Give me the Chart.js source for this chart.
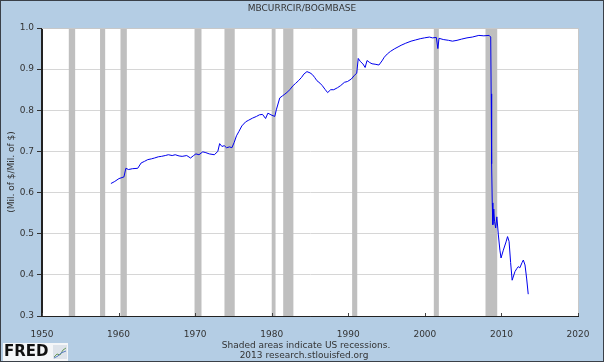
<!DOCTYPE html>
<html><head><meta charset="utf-8">
<script src="https://cdn.jsdelivr.net/npm/chart.js@4.4.0/dist/chart.umd.min.js"></script>
<style>html,body{margin:0;padding:0;background:#b4cde4}canvas{display:block}</style>
</head><body>
<canvas id="c" width="604" height="362"></canvas>
<script>
// Decimal years and MBCURRCIR/BOGMBASE ratio
const years = [
1959.0,1959.5,1960.05,1960.7,1960.95,1961.3,1961.8,1962.5,1962.95,1963.4,1963.8,1964.3,1964.7,1965.2,1965.6,
1966.1,1966.5,1967.0,1967.4,1967.9,1968.3,1968.9,1969.4,1969.8,1970.1,1970.5,1971.0,1971.4,1971.85,1972.5,
1972.96,1973.2,1973.5,1973.8,1974.1,1974.5,1974.8,1975.1,1975.4,1975.7,1976.1,1976.6,1977.0,1977.5,1978.0,
1978.4,1978.8,1979.2,1979.5,1979.9,1980.4,1980.6,1981.05,1981.4,1981.7,1982.1,1982.4,1982.8,1983.1,1983.5,
1983.9,1984.2,1984.6,1985.0,1985.3,1985.6,1985.9,1986.3,1986.6,1987.0,1987.3,1987.7,1988.1,1988.6,1989.0,
1989.5,1989.9,1990.4,1990.8,1991.1,1991.3,1991.6,1991.9,1992.2,1992.45,1992.8,1993.1,1993.5,1994.0,1994.4,
1994.7,1995.1,1995.5,1996.0,1996.5,1996.9,1997.5,1998.2,1998.8,1999.4,1999.95,2000.6,2001.0,2001.5,2001.7,
2001.85,2002.4,2003.1,2003.6,2004.2,2004.8,2005.5,2006.2,2007.05,2007.7,2008.4,2008.6,2008.66,2008.72,2008.8,
2008.88,2009.0,2009.1,2009.25,2009.4,2009.6,2009.8,2009.95,2010.25,2010.6,2010.8,2011.0,2011.2,2011.4,2011.77,
2012.0,2012.2,2012.4,2012.7,2012.86,2013.08,2013.3,2013.5
];
const ratio = [
0.622,0.627,0.634,0.638,0.659,0.656,0.658,0.659,0.672,0.676,0.680,0.682,0.684,0.687,0.688,
0.690,0.692,0.690,0.692,0.689,0.688,0.690,0.684,0.690,0.694,0.692,0.699,0.697,0.694,0.692,
0.700,0.719,0.712,0.714,0.709,0.711,0.709,0.722,0.738,0.748,0.762,0.772,0.776,0.781,0.785,
0.789,0.790,0.780,0.793,0.789,0.785,0.801,0.830,0.835,0.839,0.845,0.851,0.860,0.865,0.872,
0.880,0.888,0.894,0.891,0.887,0.880,0.872,0.866,0.860,0.850,0.843,0.850,0.850,0.855,0.860,
0.868,0.870,0.876,0.885,0.890,0.926,0.918,0.913,0.904,0.921,0.916,0.913,0.912,0.910,0.920,
0.929,0.937,0.943,0.949,0.954,0.958,0.963,0.968,0.971,0.974,0.976,0.978,0.976,0.977,0.950,
0.975,0.972,0.970,0.968,0.970,0.973,0.976,0.978,0.982,0.981,0.982,0.978,0.840,0.670,0.575,
0.522,0.560,0.530,0.514,0.541,0.497,0.460,0.441,0.460,0.480,0.493,0.481,0.430,0.387,0.408,
0.415,0.420,0.417,0.430,0.436,0.424,0.390,0.353
];
const recessionStart = [1953.5,1957.58,1960.25,1969.92,1973.83,1980.0,1981.5,1990.5,2001.17,2007.92];
const recessionEnd   = [1954.33,1958.25,1961.08,1970.83,1975.17,1980.5,1982.83,1991.17,2001.83,2009.45];
const xTicks = [1950,1960,1970,1980,1990,2000,2010,2020];
const yTicks = [0.3,0.4,0.5,0.6,0.7,0.8,0.9,1.0];

const FONT = "'DejaVu Sans', sans-serif";
const BG = '#b4cde4';

const fredPlugin = {
  id: 'fred',
  beforeDraw(chart) {
    const {ctx, chartArea: a} = chart;
    ctx.save();
    ctx.fillStyle = BG;
    ctx.fillRect(0, 0, chart.width, chart.height);
    ctx.fillStyle = '#ffffff';
    ctx.fillRect(a.left, a.top, a.right - a.left, a.bottom - a.top);
    ctx.restore();
  },
  beforeDatasetsDraw(chart) {
    const {ctx, chartArea: a, scales: {x}} = chart;
    ctx.save();
    ctx.fillStyle = '#bfbfbf';
    for (let i = 0; i < recessionStart.length; i++) {
      const x0 = x.getPixelForValue(recessionStart[i]);
      const x1 = x.getPixelForValue(recessionEnd[i]);
      ctx.fillRect(x0, a.top, x1 - x0, a.bottom - a.top);
    }
    ctx.restore();
  },
  afterDraw(chart) {
    const {ctx, chartArea: a, scales: {x}} = chart;
    ctx.save();
    // plot frame
    ctx.lineWidth = 1;
    ctx.strokeStyle = '#c8c8c8';
    ctx.beginPath();
    ctx.moveTo(a.left, a.top + 0.5); ctx.lineTo(a.right + 0.5, a.top + 0.5);
    ctx.moveTo(a.right + 0.5, a.top); ctx.lineTo(a.right + 0.5, a.bottom);
    ctx.stroke();
    ctx.strokeStyle = '#222';
    ctx.beginPath();
    ctx.moveTo(a.left - 0.5, a.top); ctx.lineTo(a.left - 0.5, a.bottom + 0.5);
    ctx.lineTo(a.right + 1, a.bottom + 0.5);
    ctx.stroke();
    // inward x tick marks
    ctx.strokeStyle = '#444';
    ctx.beginPath();
    xTicks.forEach(v => {
      const px = Math.round(x.getPixelForValue(v)) + 0.5;
      ctx.moveTo(px, a.bottom); ctx.lineTo(px, a.bottom - 3);
    });
    ctx.stroke();
    // texts
    ctx.fillStyle = '#333';
    ctx.textAlign = 'center';
    ctx.textBaseline = 'middle';
    ctx.font = '9px ' + FONT;
    ctx.fillText('MBCURRCIR/BOGMBASE', 302, 8.5);
    ctx.fillText('Shaded areas indicate US recessions.', 306, 345.5);
    ctx.fillText('2013 research.stlouisfed.org', 304, 356);
    ctx.save();
    ctx.translate(12, 172);
    ctx.rotate(-Math.PI / 2);
    ctx.fillText('(Mil. of $/Mil. of $)', 0, 0);
    ctx.restore();
    // FRED logo
    ctx.fillStyle = '#f4f6f8';
    ctx.fillRect(3, 343, 65, 18);
    ctx.fillStyle = '#111';
    ctx.textAlign = 'left';
    ctx.font = 'bold 15px ' + FONT;
    ctx.fillText('FRED', 4, 352.5);
    ctx.fillStyle = '#dde3ea';
    ctx.fillRect(53, 345, 14, 14);
    ctx.strokeStyle = '#6a9a5a';
    ctx.beginPath();
    ctx.moveTo(54, 357); ctx.lineTo(57, 354); ctx.lineTo(60, 355); ctx.lineTo(63, 350); ctx.lineTo(66, 348);
    ctx.stroke();
    ctx.strokeStyle = '#5a7fc0';
    ctx.beginPath();
    ctx.moveTo(54, 358); ctx.lineTo(58, 356); ctx.lineTo(61, 353); ctx.lineTo(66, 351);
    ctx.stroke();
    // outer border
    ctx.strokeStyle = '#3a4048';
    ctx.strokeRect(0.5, 0.5, chart.width - 1, chart.height - 1);
    ctx.restore();
  }
};

new Chart(document.getElementById('c'), {
  type: 'line',
  data: {
    datasets: [{
      data: years.map((v, i) => ({x: v, y: ratio[i]})),
      borderColor: '#0000ee',
      borderWidth: 1,
      pointRadius: 0,
      tension: 0,
      fill: false
    }]
  },
  options: {
    responsive: false,
    animation: false,
    devicePixelRatio: 1,
    layout: {padding: {left: 0, right: 26, top: 28, bottom: 0}},
    plugins: {legend: {display: false}, tooltip: {enabled: false}, title: {display: false}},
    scales: {
      x: {
        type: 'linear', min: 1950, max: 2020,
        afterBuildTicks: s => { s.ticks = xTicks.map(v => ({value: v})); },
        afterFit: s => { s.height = 46; },
        grid: {display: false},
        border: {display: true, color: '#222', width: 1},
        ticks: {font: {family: FONT, size: 9}, color: '#333', padding: 5, maxRotation: 0, autoSkip: false,
                callback: v => String(v)}
      },
      y: {
        type: 'linear', min: 0.3, max: 1.0,
        afterBuildTicks: s => { s.ticks = yTicks.map(v => ({value: v})); },
        afterFit: s => { s.width = 42; },
        grid: {color: '#d6d6d6', tickColor: '#333', tickLength: 5, lineWidth: 1},
        border: {display: true, color: '#222', width: 1},
        ticks: {font: {family: FONT, size: 9}, color: '#333', padding: 3, autoSkip: false,
                callback: v => Number(v).toFixed(1)}
      }
    }
  },
  plugins: [fredPlugin]
});
</script>
</body></html>
